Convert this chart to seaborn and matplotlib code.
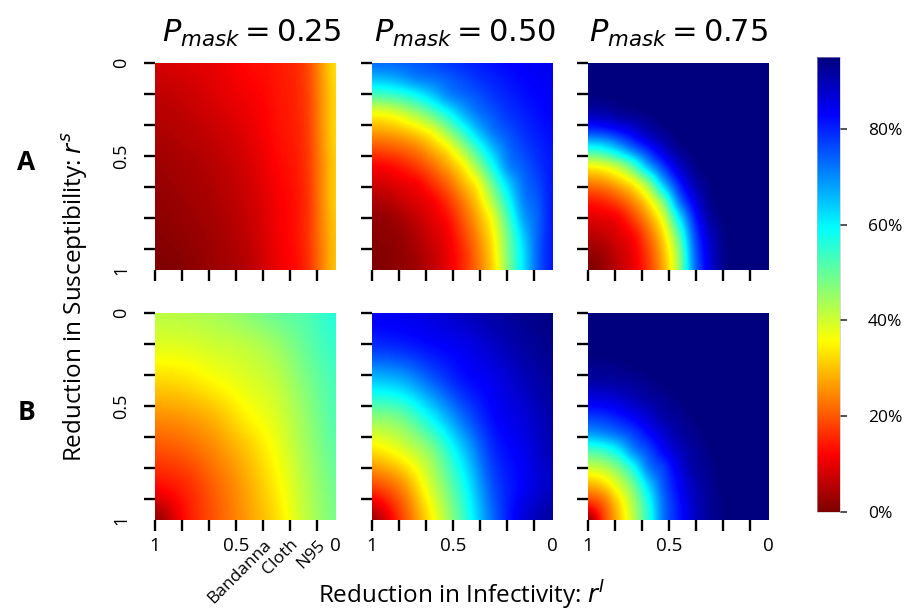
import numpy as np
import matplotlib
matplotlib.use("Agg")
import matplotlib.pyplot as plt
from matplotlib.colors import Normalize
import matplotlib.cm as cm
import seaborn as sns

# ---------------- data (percent; rows: r^S = 0 (top) -> 1 (bottom); cols: r^I = 1 (left) -> 0 (right)) ----------
p_mask_labels = ["0.25", "0.50", "0.75"]
row_labels = ["A", "B"]
cbar_ticks = [0, 20, 40, 60, 80]
cbar_labels = ["0%", "20%", "40%", "60%", "80%"]
xtick_labels_first = ["1", "", "", "0.5", "Bandanna", "Cloth", "N95", "0"]
xtick_labels_other = ["1", "", "", "0.5", "", "", "", "0"]
ytick_labels_first = ["0", "", "", "0.5", "", "", "", "1"]

a_025 = [
    [8.0, 9.0, 10.0, 12.5, 14.0, 18.0, 33.0],
    [6.0, 7.0, 9.0, 11.0, 13.5, 17.5, 32.0],
    [4.5, 5.5, 7.0, 9.5, 13.0, 17.0, 32.0],
    [3.0, 4.0, 5.5, 8.0, 12.0, 16.5, 31.0],
    [2.0, 3.0, 4.5, 7.0, 11.0, 16.0, 31.0],
    [1.0, 2.0, 3.5, 6.0, 10.5, 16.0, 30.0],
    [0.0, 1.0, 3.0, 5.0, 10.0, 15.5, 30.0],
]
a_050 = [
    [73, 73.2, 73.8, 74.8, 76.1, 77.8, 79.1, 80.4, 81.6, 82.7, 83.4, 84, 84.7],
    [64.8, 65.4, 67.5, 70.4, 72, 74, 76.2, 78.3, 79.9, 81.4, 82.6, 83.5, 84.1],
    [50.9, 51.8, 54.2, 58, 63.2, 69.3, 72.5, 75.1, 77.9, 79.8, 81.5, 82.8, 83.6],
    [36, 36.9, 39.9, 44.4, 50.4, 57.6, 65.6, 71.6, 74.9, 78.1, 80, 81.8, 83.1],
    [26.9, 27.6, 29.6, 32.6, 37.3, 45.5, 55.1, 64.6, 71.7, 75.4, 78.5, 80.7, 82.3],
    [19.1, 19.7, 21.4, 24, 28.7, 34.4, 44, 54.9, 65.2, 72.6, 76.6, 79.4, 81.5],
    [12, 12.7, 14.7, 17.7, 21.9, 27.4, 34.3, 45.4, 58, 69.8, 74.3, 78.2, 81],
    [8, 8.6, 10.2, 11.9, 16.3, 21.5, 28.5, 36.2, 49.9, 63.2, 72.2, 76.5, 81],
    [4.5, 5.2, 7.2, 9.3, 11.6, 16.8, 23.3, 31.5, 43.3, 57.4, 70.2, 75, 81],
    [2, 2.6, 4.2, 6.7, 9.6, 13.1, 20, 27.7, 37.5, 52.5, 67.2, 74, 81],
    [1.2, 1.6, 2.6, 5, 7.9, 11.1, 17.4, 25, 34.5, 48.9, 63.4, 74, 81],
    [0.6, 1, 2, 3.9, 6.7, 10.3, 15.6, 23.2, 32.8, 47.7, 61.4, 74, 81],
    [0, 0.8, 1.8, 3.2, 6.1, 9.9, 15.3, 22.4, 31.7, 46.7, 61, 74, 81],
]
a_075 = [
    [97, 97, 97, 97, 97, 97, 97, 97, 97, 97, 97, 97, 97],
    [97, 97, 97, 97, 97, 97, 97, 97, 97, 97, 97, 97, 97],
    [94.4, 94.5, 95.1, 96, 97, 97, 97, 97, 97, 97, 97, 97, 97],
    [89.4, 90.1, 92, 93, 94.3, 95.9, 97, 97, 97, 97, 97, 97, 97],
    [77.3, 78.4, 81.5, 85.4, 90.3, 93.2, 95.3, 97, 97, 97, 97, 97, 97],
    [56.9, 59, 65, 73, 80.3, 87.5, 92.9, 95.2, 97, 97, 97, 97, 97],
    [36, 37.8, 42.8, 52.4, 66.5, 78, 87.4, 93.2, 96, 97, 97, 97, 97],
    [23.7, 25, 29.1, 35.4, 47, 65.6, 79.7, 89.8, 94.2, 97, 97, 97, 97],
    [14.5, 15.8, 19.4, 25.2, 34.4, 49.3, 71.3, 84.3, 92.8, 95.9, 97, 97, 97],
    [9.3, 10, 11.9, 18.2, 26.6, 38.9, 59.9, 78.7, 90.7, 94.8, 97, 97, 97],
    [5.5, 6.6, 9.1, 12.7, 21.3, 32.7, 50.9, 74.3, 87.6, 94, 97, 97, 97],
    [2.3, 3.5, 6.9, 10.7, 18.2, 29.4, 45.7, 71.5, 85.8, 93.5, 97, 97, 97],
    [0, 2.4, 6.1, 10.1, 17.2, 27.8, 44.4, 70.1, 85.2, 93.3, 97, 97, 97],
]
b_025 = [
    [42.0, 42.5, 43.8, 46.3, 49.6, 52.0, 56.0],
    [38.1, 38.6, 40.1, 41.6, 44.7, 50.0, 54.5],
    [31.9, 32.9, 35.6, 38.4, 41.4, 47.5, 53.0],
    [25.4, 26.5, 29.4, 34.6, 38.9, 45.5, 52.0],
    [19.2, 20.9, 24.8, 30.0, 36.5, 44.0, 50.5],
    [12.7, 15.7, 21.3, 27.3, 34.3, 42.5, 49.0],
    [2.0, 13.0, 20.0, 26.1, 32.5, 41.5, 48.0],
]
b_050 = [
    [84.0, 84.5, 86.0, 88.6, 91.2, 93.2, 94.5],
    [78.5, 79.8, 82.3, 84.4, 88.0, 91.4, 93.6],
    [64.0, 66.4, 74.0, 81.0, 84.5, 89.0, 92.4],
    [47.0, 49.9, 60.8, 73.2, 82.3, 86.4, 91.0],
    [33.0, 38.2, 47.6, 63.7, 78.8, 84.4, 89.9],
    [18.5, 25.3, 40.7, 57.0, 75.5, 83.5, 88.8],
    [3.0, 18.0, 35.0, 53.0, 73.0, 86.0, 92.0],
]
b_075 = [
    [97, 97, 97, 97, 97, 97, 97, 97, 97, 97, 97, 97, 97],
    [97, 97, 97, 97, 97, 97, 97, 97, 97, 97, 97, 97, 97],
    [95.7, 95.8, 96, 96.5, 97, 97, 97, 97, 97, 97, 97, 97, 97],
    [93.6, 93.7, 94.1, 94.9, 95.6, 96.4, 97, 97, 97, 97, 97, 97, 97],
    [91.2, 91.4, 91.9, 92.6, 93.7, 95, 96, 97, 97, 97, 97, 97, 97],
    [85.4, 85.9, 87.3, 89.5, 91.6, 93, 94.6, 95.9, 97, 97, 97, 97, 97],
    [78, 78.8, 81, 84.1, 87.4, 91.2, 92.9, 94.8, 96.2, 97, 97, 97, 97],
    [68.4, 70.2, 73.3, 77.3, 82.5, 87.1, 91.3, 93.4, 95.3, 96.9, 97, 97, 97],
    [52.7, 54.7, 60.2, 70, 76.4, 83.1, 88.4, 92.1, 94.3, 96.1, 97, 97, 97],
    [40.1, 42.2, 47.9, 57.8, 71.1, 77.5, 85.3, 91.1, 93.4, 95.6, 97, 97, 97],
    [28, 31.2, 39, 48.9, 62.8, 75, 83.1, 89.3, 92.7, 95.1, 96.9, 97, 97],
    [16.4, 21.5, 32.1, 43.7, 57.5, 72.7, 81.3, 88.2, 92.3, 94.8, 96.6, 97, 97],
    [2, 17, 29.3, 41.9, 55.6, 72, 80.6, 87.7, 92.3, 94.7, 96.5, 97, 97],
]
panels = [[a_025, a_050, a_075], [b_025, b_050, b_075]]

# ---------------- style ----------------
sns.set_theme(style="ticks")
plt.rcParams["font.family"] = ["Open Sans", "DejaVu Sans"]
plt.rcParams["mathtext.fontset"] = "dejavusans"
plt.rcParams["text.color"] = "black"
plt.rcParams["xtick.color"] = "black"
plt.rcParams["ytick.color"] = "black"

cmap = sns.blend_palette(["#7F0000", "#FF0000", "#FF7F00", "#FFFF00", "#7FFF7F",
                          "#00FFFF", "#007FFF", "#0000FF", "#00007F"], n_colors=256, as_cmap=True)
VMAX = 95

W, H = 905, 610
fig = plt.figure(figsize=(W / 100, H / 100), dpi=100)

col_left = [155, 372, 588]
row_top = [63, 313]
pw, ph = 180, 207

tick_pos = [0, 0.15, 0.3, 0.45, 0.6, 0.75, 0.9, 1.0]

for r in range(2):
    for c in range(3):
        ax = fig.add_axes([col_left[c] / W, 1 - (row_top[r] + ph) / H, pw / W, ph / H])
        data = np.array(panels[r][c], dtype=float)
        half = 0.5 / (data.shape[0] - 1)
        ax.imshow(data, cmap=cmap, vmin=0, vmax=VMAX, interpolation="catrom",
                  extent=(-half, 1 + half, 1 + half, -half), aspect="auto")
        ax.set_xlim(0, 1)
        ax.set_ylim(1, 0)
        for s in ax.spines.values():
            s.set_visible(False)
        ax.set_xticks(tick_pos)
        ax.set_yticks(tick_pos)
        ax.tick_params(axis="both", direction="out", length=8, width=1.7, color="black",
                       bottom=True, left=True)
        ax.tick_params(axis="x", pad=4, labelsize=13.5)
        ax.tick_params(axis="y", pad=10, labelsize=13)
        ax.xaxis.get_major_ticks()[-1].tick1line.set_visible(False)
        ax.yaxis.get_major_ticks()[-1].tick1line.set_visible(False)
        if r == 1 and c == 0:
            ax.set_xticklabels(xtick_labels_first)
            for lab in ax.get_xticklabels()[4:7]:
                lab.set_rotation(45)
                lab.set_rotation_mode("anchor")
                lab.set_ha("right")
                lab.set_va("top")
                lab.set_fontsize(12.5)
        elif r == 1:
            ax.set_xticklabels(xtick_labels_other)
        else:
            ax.set_xticklabels([])
        if c == 0:
            ax.set_yticklabels(ytick_labels_first, rotation=90, va="center")
        else:
            ax.set_yticklabels([])

# titles
title_x = [252, 465, 678]
for c in range(3):
    fig.text(title_x[c] / W, 1 - 42 / H, r"$P_{mask} = $" + "$" + p_mask_labels[c] + "$",
             ha="center", va="baseline", fontsize=22)

# row labels
for r, lab in enumerate(row_labels):
    fig.text(26 / W, 1 - (163 + 250 * r) / H, lab, ha="center", va="center",
             fontsize=19, fontweight="bold")

# axis labels
fig.text(75 / W, 1 - 297 / H, r"Reduction in Susceptibility: $r^s$", rotation=90,
         ha="center", va="center", fontsize=17.5)
fig.text(461 / W, 1 - 595 / H, r"Reduction in Infectivity: $r^I$",
         ha="center", va="center", fontsize=17.5)

# colorbar
cax = fig.add_axes([817 / W, 1 - 512 / H, 23 / W, 455 / H])
sm = cm.ScalarMappable(norm=Normalize(0, VMAX), cmap=cmap)
cb = fig.colorbar(sm, cax=cax, ticks=cbar_ticks)
cb.ax.set_yticklabels(cbar_labels)
cb.outline.set_linewidth(0.4)
cb.outline.set_edgecolor("#bbbbbb")
cax.tick_params(length=5, width=1.3, color="#444444", pad=15, labelsize=12.5)

fig.savefig("out.png", dpi=100)
